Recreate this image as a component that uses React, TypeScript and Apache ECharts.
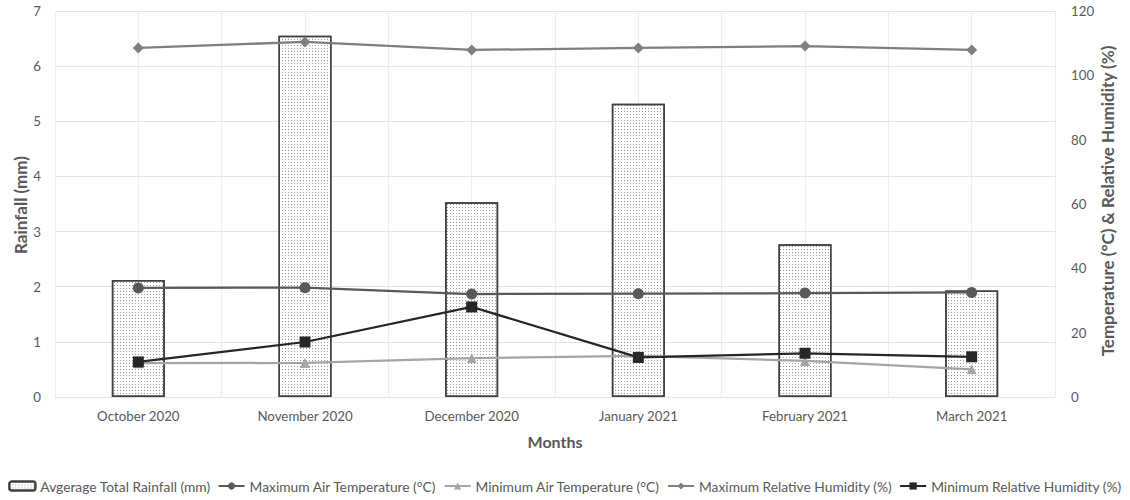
import React, { useEffect, useRef } from "react";
import * as echarts from "echarts";

const months = ["October 2020", "November 2020", "December 2020", "January 2021", "February 2021", "March 2021"];
const rainfall = [2.12, 6.55, 3.53, 5.32, 2.77, 1.93];
const maxAirTemp = [33.9, 34.0, 32.0, 32.1, 32.3, 32.5];
const minAirTemp = [10.5, 10.6, 12.1, 12.8, 11.2, 8.6];
const maxRH = [108.5, 110.4, 107.9, 108.5, 109.1, 107.9];
const minRH = [10.9, 17.1, 28.0, 12.3, 13.6, 12.5];

const FONT = "Lato, 'Open Sans', sans-serif";
const TXT = "#595959";

export default function App() {
  const ref = useRef<HTMLDivElement>(null);
  useEffect(() => {
    if (!ref.current) return;
    const chart = echarts.init(ref.current, undefined, { renderer: "svg" });
    const lineBase = (name: string, data: number[], color: string, symbol: string, size: number) => ({
      name,
      type: "line",
      yAxisIndex: 1,
      data,
      symbol,
      symbolSize: size,
      lineStyle: { color, width: 2.25 },
      itemStyle: { color },
      z: 5,
    });
    chart.setOption({
      animation: false,
      textStyle: { fontFamily: FONT },
      grid: { left: 55, right: 75, top: 11, bottom: 103 },
      xAxis: [
        {
          type: "category",
          data: months,
          axisLine: { show: true, lineStyle: { color: "#e3e3e3" } },
          axisTick: { show: false },
          axisLabel: { color: TXT, fontSize: 13.3, fontFamily: FONT, margin: 12 },
          splitLine: { show: false },
        },
        {
          type: "value",
          min: 0,
          max: 12,
          interval: 1,
          position: "bottom",
          axisLine: { show: false },
          axisTick: { show: false },
          axisLabel: { show: false },
          splitLine: { show: true, lineStyle: { color: "#ececec", width: 1 } },
        },
      ],
      yAxis: [
        {
          type: "value",
          min: 0,
          max: 7,
          interval: 1,
          axisLine: { show: false },
          axisTick: { show: false },
          axisLabel: { color: TXT, fontSize: 13.3, fontFamily: FONT, margin: 14 },
          splitLine: { show: true, lineStyle: { color: "#e3e3e3", width: 1 } },
        },
        {
          type: "value",
          min: 0,
          max: 120,
          interval: 20,
          position: "right",
          axisLine: { show: false },
          axisTick: { show: false },
          axisLabel: { color: TXT, fontSize: 13.3, fontFamily: FONT, margin: 16 },
          splitLine: { show: false },
        },
      ],
      legend: {
        bottom: 2,
        left: "center",
        itemGap: 7,
        itemWidth: 26,
        itemHeight: 9,
        textStyle: { color: TXT, fontSize: 13.8, fontFamily: FONT },
        data: [
          "Avgerage Total Rainfall (mm)",
          "Maximum Air Temperature (°C)",
          "Minimum Air Temperature (°C)",
          "Maximum Relative Humidity (%)",
          "Minimum Relative Humidity (%)",
        ],
      },
      graphic: [
        {
          type: "text",
          x: 20,
          y: 205,
          rotation: Math.PI / 2,
          style: {
            text: "Rainfall (mm)",
            fill: TXT,
            font: `bold 17px ${FONT}`,
            align: "center",
            verticalAlign: "middle",
          },
        },
        {
          type: "text",
          x: 1107,
          y: 201,
          rotation: Math.PI / 2,
          style: {
            text: "Temperature (°C) & Relative Humidity (%)",
            fill: TXT,
            font: `bold 17px ${FONT}`,
            align: "center",
            verticalAlign: "middle",
          },
        },
        {
          type: "text",
          x: 555,
          y: 441,
          style: {
            text: "Months",
            fill: TXT,
            font: `bold 16px ${FONT}`,
            align: "center",
            verticalAlign: "middle",
          },
        },
      ],
      series: [
        {
          name: "Avgerage Total Rainfall (mm)",
          type: "bar",
          data: rainfall,
          barWidth: 53,
          itemStyle: {
            color: "#ffffff",
            borderColor: "#404040",
            borderWidth: 1.5,
            decal: {
              symbol: "rect",
              symbolSize: 1,
              color: "#9a9a9a",
              dashArrayX: [1, 2],
              dashArrayY: [1, 2],
              rotation: 0,
            },
          },
          z: 2,
        },
        lineBase("Maximum Air Temperature (°C)", maxAirTemp, "#595959", "circle", 11),
        lineBase("Minimum Air Temperature (°C)", minAirTemp, "#a5a5a5", "triangle", 10),
        lineBase("Maximum Relative Humidity (%)", maxRH, "#7f7f7f", "diamond", 11),
        lineBase("Minimum Relative Humidity (%)", minRH, "#262626", "rect", 11),
      ],
    });
    return () => chart.dispose();
  }, []);
  return <div ref={ref} style={{ width: 1130, height: 500, position: "absolute", left: 0, top: 0, background: "#fff" }} />;
}
